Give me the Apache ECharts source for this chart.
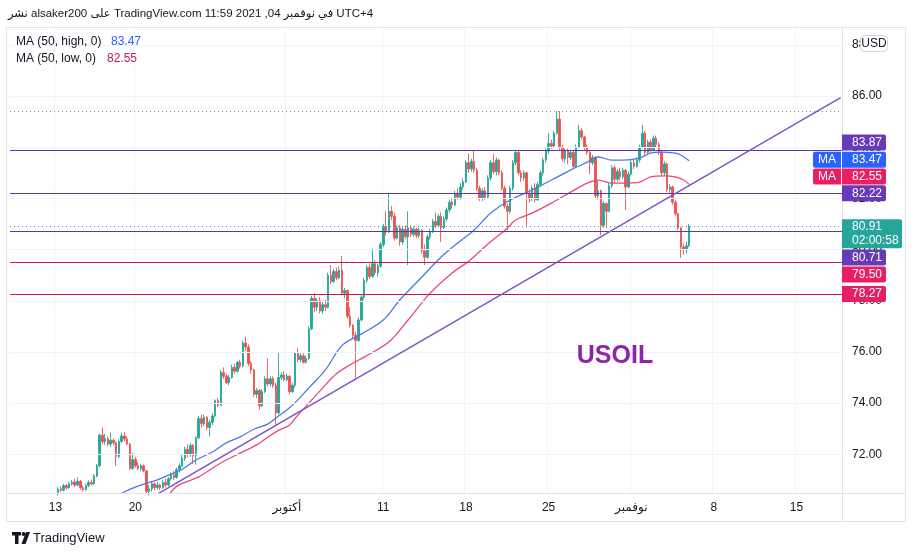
<!DOCTYPE html>
<html><head><meta charset="utf-8">
<script src="https://cdn.jsdelivr.net/npm/echarts@6/dist/echarts.min.js"></script>
<style>html,body{margin:0;padding:0;background:#fff}#c{width:916px;height:556px}</style>
</head><body><div id="c"></div>
<script>
// ---------- DATA ----------
const N = 302;                       // category slots (4h candles + future space)
const tickIdx  = [16, 45, 100, 135, 165, 195, 225, 255, 285];
const tickText = ['13', '20', 'أكتوبر', '11', '18', '25', 'نوفمبر', '8', '15'];
const priceTicks = [72, 74, 76, 78, 80, 82, 84, 86, 88];
const firstIdx = 17;
// [open, close, low, high]
const candles = [
[70.50,70.65,70.40,70.72],[70.65,70.60,70.52,70.75],[70.60,70.78,70.55,70.85],[70.78,70.70,70.62,70.84],
[70.70,70.85,70.66,70.92],[70.85,70.92,70.78,71.00],[70.92,70.80,70.72,71.05],[70.80,70.95,70.75,71.10],
[70.95,70.70,70.62,71.00],[70.70,70.62,70.55,70.78],[70.62,70.78,70.58,70.85],[70.78,70.90,70.72,70.98],
[70.90,70.85,70.78,71.02],[70.85,71.15,70.80,71.22],[71.15,71.55,71.10,71.62],[71.55,72.75,71.50,72.82],
[72.75,72.50,72.40,73.05],[72.50,72.62,72.38,72.80],[72.62,72.40,72.32,72.70],[72.40,72.55,72.30,72.85],
[72.55,72.45,72.35,72.62],[72.45,71.92,71.55,72.50],[71.92,72.50,71.85,72.58],[72.50,72.72,72.45,72.85],
[72.72,72.60,72.50,72.88],[72.60,72.40,72.35,72.70],[72.40,71.45,71.38,72.45],[71.45,71.80,71.40,72.05],
[71.80,71.55,71.48,71.90],[71.55,71.45,71.38,71.70],[71.45,71.55,71.35,71.62],[71.55,71.35,71.30,71.60],
[71.35,70.55,70.45,71.40],[70.55,70.65,70.40,70.80],[70.65,70.85,70.55,70.95],[70.85,70.70,70.60,70.90],
[70.70,70.80,70.62,70.92],[70.80,70.70,70.60,70.85],[70.70,70.90,70.65,71.00],[70.90,70.80,70.72,71.05],
[70.80,71.05,70.75,71.12],[71.05,71.20,70.98,71.30],[71.20,71.10,71.00,71.35],[71.10,71.40,71.05,71.48],
[71.40,71.55,71.30,71.65],[71.55,71.85,71.50,72.00],[71.85,72.20,71.75,72.30],[72.20,72.00,71.88,72.40],
[72.00,72.35,71.90,72.45],[72.35,71.95,71.62,72.40],[71.95,72.65,71.60,72.70],[72.65,73.40,72.60,73.50],
[73.40,73.20,73.05,73.55],[73.20,73.45,73.10,73.55],[73.45,73.05,72.95,73.50],[73.05,73.25,72.70,73.35],
[73.25,73.50,73.15,73.60],[73.50,74.10,73.45,74.15],[74.10,73.92,73.85,74.20],[73.92,75.20,73.90,75.30],
[75.20,75.05,74.95,75.40],[75.05,74.80,74.75,75.15],[74.80,75.00,74.70,75.10],[75.00,75.40,74.95,75.50],
[75.40,75.25,75.15,75.55],[75.25,75.60,75.20,75.65],[75.60,75.45,75.35,75.70],[75.45,76.35,75.40,76.45],
[76.35,76.20,76.05,76.60],[76.20,75.55,75.45,76.30],[75.55,75.30,75.15,75.65],[75.30,74.35,74.25,75.35],
[74.35,74.50,74.20,74.60],[74.50,73.90,73.75,74.55],[73.90,74.45,73.85,74.55],[74.45,74.95,74.40,75.05],
[74.95,74.75,74.65,75.75],[74.75,74.95,74.65,75.05],[74.95,74.70,74.60,75.05],[74.70,73.62,73.15,74.80],
[73.62,75.00,73.55,76.00],[75.00,75.10,74.90,75.20],[75.10,74.92,74.85,75.25],[74.92,75.05,74.85,75.15],
[75.05,74.45,74.35,75.10],[74.45,74.70,74.40,74.80],[74.70,75.95,74.60,76.00],[75.95,75.70,75.60,76.15],
[75.70,75.85,75.60,75.95],[75.85,75.60,75.55,75.95],[75.60,75.75,75.55,75.85],[75.75,76.90,75.70,77.00],
[76.90,78.10,76.85,78.20],[78.10,77.75,77.55,78.30],[77.75,78.00,77.60,78.10],[78.00,77.60,77.50,78.15],
[77.60,77.85,77.50,77.95],[77.85,77.75,77.60,78.05],[77.75,79.00,77.70,79.10],[79.00,78.75,78.65,79.40],
[78.75,79.15,78.70,79.25],[79.15,78.90,78.80,79.30],[78.90,79.20,78.85,79.35],[79.20,78.30,78.25,79.75],
[78.30,78.40,78.10,78.50],[78.40,77.40,77.30,78.45],[77.40,77.05,76.95,77.75],[77.05,76.65,76.55,77.10],
[76.65,76.45,75.00,76.80],[76.45,77.25,76.40,77.35],[77.25,78.15,77.20,78.25],[78.15,78.80,78.05,78.90],
[78.80,79.30,78.70,79.40],[79.30,78.95,78.85,79.45],[78.95,79.45,78.90,80.05],[79.45,79.10,79.00,79.60],
[79.10,79.35,78.95,79.45],[79.35,80.20,79.30,80.30],[80.20,80.90,80.10,81.00],[80.90,80.70,80.55,81.50],
[80.70,81.50,80.65,82.22],[81.50,81.30,81.15,81.70],[81.30,80.45,80.35,81.45],[80.45,80.85,80.40,80.95],
[80.85,80.30,80.15,80.95],[80.30,80.80,80.20,80.90],[80.80,80.50,80.40,80.95],[80.50,80.85,79.40,81.50],
[80.85,80.60,80.50,80.95],[80.60,80.80,80.50,80.90],[80.80,80.55,80.45,80.85],[80.55,80.75,80.45,80.85],
[80.75,79.95,79.85,80.80],[79.95,79.70,79.40,80.20],[79.70,80.50,79.65,80.60],[80.50,80.70,80.40,80.80],
[80.70,81.10,80.65,81.20],[81.10,80.95,80.85,81.45],[80.95,81.30,80.90,81.40],[81.30,80.85,80.30,81.45],
[80.85,81.20,80.80,81.30],[81.20,81.55,81.10,81.65],[81.55,81.85,81.45,81.95],[81.85,81.75,81.60,82.00],
[81.75,82.20,81.70,82.30],[82.20,82.05,81.95,82.40],[82.05,82.45,81.95,82.60],[82.45,82.65,82.35,82.80],
[82.65,83.40,82.60,83.50],[83.40,83.15,83.00,83.75],[83.15,83.45,83.05,83.55],[83.45,83.10,83.00,83.87],
[83.10,82.40,82.30,83.20],[82.40,82.00,81.90,82.50],[82.00,82.30,81.90,82.40],[82.30,82.05,81.95,82.45],
[82.05,82.80,82.00,82.90],[82.80,83.40,82.70,83.50],[83.40,83.05,82.95,83.75],[83.05,83.50,82.90,83.60],
[83.50,83.00,82.90,83.55],[83.00,82.40,82.30,83.10],[82.40,81.70,81.60,82.50],[81.70,81.50,80.76,81.80],
[81.50,82.40,81.40,82.50],[82.40,83.40,82.30,83.50],[83.40,83.80,83.30,83.90],[83.80,83.00,82.90,83.90],
[83.00,82.80,82.65,83.10],[82.80,83.00,82.70,83.10],[83.00,82.20,80.90,83.05],[82.20,82.00,81.85,82.35],
[82.00,82.40,81.90,82.50],[82.40,81.95,81.85,82.60],[81.95,82.55,81.90,82.65],[82.55,83.00,82.45,83.10],
[83.00,83.50,82.90,83.60],[83.50,83.85,83.40,83.95],[83.85,84.15,83.75,84.55],[84.15,84.05,83.95,84.30],
[84.05,84.55,84.00,84.65],[84.55,85.10,84.50,85.40],[85.10,84.00,83.90,85.41],[84.00,83.55,83.45,84.10],
[83.55,83.85,83.40,83.95],[83.85,83.60,83.35,83.95],[83.60,83.80,83.50,83.90],[83.80,83.25,83.15,83.85],
[83.25,84.00,83.20,84.10],[84.00,84.65,83.95,84.87],[84.65,84.40,84.30,84.75],[84.40,84.00,83.90,84.45],
[84.00,83.80,83.70,84.10],[83.80,83.40,82.95,83.90],[83.40,83.60,83.30,83.70],[83.60,82.10,82.00,83.65],
[82.10,82.30,81.95,82.70],[82.30,80.95,80.57,82.35],[80.95,81.80,80.85,81.90],[81.80,81.50,80.84,81.85],
[81.50,82.50,81.45,82.60],[82.50,83.20,82.40,83.30],[83.20,82.75,82.60,83.30],[82.75,83.05,82.65,83.15],
[83.05,82.85,82.70,83.20],[82.85,83.10,82.75,83.20],[83.10,82.45,81.55,83.15],[82.45,82.95,82.40,83.05],
[82.95,83.40,82.90,83.50],[83.40,83.25,83.15,83.55],[83.25,83.50,83.20,83.60],[83.50,84.00,83.40,84.10],
[84.00,84.55,83.95,84.87],[84.55,83.80,83.70,84.65],[83.80,84.20,83.70,84.30],[84.20,83.90,83.80,84.30],
[83.90,84.35,83.85,84.45],[84.35,84.10,84.00,84.45],[84.10,83.80,83.70,84.20],[83.80,83.00,82.90,83.90],
[83.00,83.35,82.90,83.45],[83.35,82.35,82.25,83.40],[82.35,82.45,82.20,82.55],[82.45,81.85,81.75,82.50],
[81.85,81.40,81.30,81.95],[81.40,80.85,80.75,81.45],[80.85,80.10,79.67,80.90],[80.10,80.00,79.80,80.25],
[80.00,80.15,79.85,80.30],[80.15,80.91,80.10,81.00]
];
// MA (50, high) read at sample points (category index / value)
const maHighIdx = [38,41,47,53,57,62,67,73,78,83,88,93,97,100,104,108,114,120,127,135,141,149,156,162,168,174,181,189,196,203,209,213,218,222,228,232,236,241,243,246];
const maHighVal = [70.25,70.53,70.80,71.00,71.19,71.42,71.78,72.09,72.45,72.68,72.98,73.18,73.50,73.73,74.13,74.60,75.30,76.25,76.70,77.25,78.03,78.93,79.71,80.26,80.77,81.43,81.94,82.33,82.72,83.11,83.42,83.62,83.50,83.50,83.58,83.77,83.81,83.77,83.70,83.47];
// MA (50, low)
const maLowIdx = [56,60,68,76,83,89,96,101,104,108,113,118,123,128,137,144,152,160,166,173,180,183,189,196,203,209,213,218,222,228,232,237,241,244,246];
const maLowVal = [70.22,70.75,71.12,71.66,72.05,72.37,72.88,73.15,73.54,74.00,74.60,75.15,75.50,75.80,76.39,77.25,78.30,79.09,79.55,80.22,80.84,81.16,81.43,81.82,82.25,82.60,82.72,82.60,82.60,82.64,82.84,82.88,82.84,82.72,82.55];
// drawn trend line (two anchor points)
const trendIdx = [50, 301];
const trendVal = [70.26, 85.94];
// horizontal levels
const levelsPurple = [83.87, 82.22, 80.71];
const levelsRed = [79.50, 78.27];
const highLevel = 85.41;
const lastPrice = 80.91;
const countdown = '02:00:58';
const maHighLast = 83.47, maLowLast = 82.55;

// ---------- CHART ----------
const FONT = '"Liberation Sans", "DejaVu Sans", sans-serif';
const labelMap = {};
tickIdx.forEach((k, j) => labelMap[k] = tickText[j]);
const cats = Array.from({length: N}, (_, i) => String(i));
const candleData = Array.from({length: N}, () => '-');
candles.forEach((c, j) => candleData[firstIdx + j] = c);
const pairs = (a, b) => a.map((k, j) => [k, b[j]]);

const PURPLE = '#673ab7', PURPLE_LINE = '#5e35b1';
const RED = '#e91e63', RED_LINE = '#c2185b';
const BLUE = '#2962ff', TEAL = '#26a69a';

const chart = echarts.init(document.getElementById('c'), null, {renderer: 'canvas'});
const showTick = (i) => labelMap[i] !== undefined;
chart.setOption({
  animation: false,
  backgroundColor: '#ffffff',
  grid: {left: 10, right: 74, top: 27, bottom: 63, containLabel: false},
  xAxis: {
    type: 'category', data: cats, boundaryGap: true,
    axisLine: {show: false},
    axisTick: {show: false},
    axisLabel: {interval: showTick, formatter: (v, i) => labelMap[i] || '', color: '#131722', fontSize: 12, margin: 9, fontFamily: FONT},
    splitLine: {show: true, interval: showTick, lineStyle: {color: '#f0f3fa', width: 1}}
  },
  yAxis: {
    type: 'value', position: 'right', min: 70.49, max: 88.70, scale: true,
    axisLine: {show: false}, axisTick: {show: false}, splitLine: {show: false},
    axisLabel: {customValues: priceTicks, formatter: v => v.toFixed(2), color: '#131722', fontSize: 12, margin: 10, fontFamily: FONT}
  },
  series: [
    { // horizontal grid
      type: 'line', data: [], z: 0, silent: true,
      markLine: {silent: true, symbol: ['none', 'none'], label: {show: false}, animation: false,
        lineStyle: {color: '#f0f3fa', type: 'solid', width: 1},
        data: priceTicks.map(v => ({yAxis: v}))}
    },
    { // levels
      type: 'line', data: [], z: 2, silent: true,
      markLine: {silent: true, symbol: ['none', 'none'], label: {show: false}, animation: false,
        data: [
          ...levelsPurple.map(v => ({yAxis: v, lineStyle: {color: PURPLE_LINE, width: 1.2, type: 'solid'}})),
          ...levelsRed.map(v => ({yAxis: v, lineStyle: {color: RED_LINE, width: 1.2, type: 'solid'}})),
          {yAxis: highLevel, lineStyle: {color: '#8a8d96', width: 1, type: [1, 3]}},
          {yAxis: lastPrice, lineStyle: {color: TEAL, width: 1, type: [1, 3]}}
        ]}
    },
    {
      type: 'candlestick', data: candleData, z: 3, barWidth: 2,
      itemStyle: {color: TEAL, color0: '#ef5350', borderColor: TEAL, borderColor0: '#ef5350', borderWidth: 0.9}
    },
    {
      type: 'line', data: pairs(maHighIdx, maHighVal), z: 4, showSymbol: false, smooth: 0.35, silent: true,
      lineStyle: {color: '#4b79e4', width: 1.3}
    },
    {
      type: 'line', data: pairs(maLowIdx, maLowVal), z: 4, showSymbol: false, smooth: 0.35, silent: true,
      lineStyle: {color: '#e8487c', width: 1.3}
    },
    {
      type: 'line', data: pairs(trendIdx, trendVal), z: 5, showSymbol: false, silent: true,
      lineStyle: {color: '#7e57c2', width: 1.5}
    }
  ]
});

// ---------- OVERLAY TEXT / PRICE TAGS ----------
const yPix = v => chart.convertToPixel({yAxisIndex: 0}, v);
const AX = 842;
const g = [];
const txt = (x, y, text, fill, size, extra) => Object.assign({type: 'text', x, y, z: 200, silent: true,
  style: Object.assign({text, fill, fontSize: size, fontFamily: FONT, align: 'left', verticalAlign: 'middle'}, extra || {})});
// frame lines
g.push({type: 'rect', z: 150, silent: true, shape: {x: 6.5, y: 27.5, width: 899, height: 494}, style: {fill: null, stroke: '#e0e3eb', lineWidth: 1}});
g.push({type: 'line', z: 150, silent: true, shape: {x1: 6, y1: 493.5, x2: 906, y2: 493.5}, style: {stroke: '#e0e3eb', lineWidth: 1}});
g.push({type: 'line', z: 150, silent: true, shape: {x1: AX + 0.5, y1: 27, x2: AX + 0.5, y2: 521}, style: {stroke: '#e0e3eb', lineWidth: 1}});
// header
g.push(txt(8, 14, 'نشر alsaker200 على TradingView.com في نوفمبر 04, 2021 11:59 UTC+4', '#131722', 11.5));
// legend
g.push(txt(16, 42, 'MA (50, high, 0)', '#131722', 12));
g.push(txt(111, 42, maHighLast.toFixed(2), '#2962ff', 12));
g.push(txt(16, 59, 'MA (50, low, 0)', '#131722', 12));
g.push(txt(107, 59, maLowLast.toFixed(2), '#c2185b', 12));
// USOIL annotation
g.push(txt(615, 356, 'USOIL', '#8e24aa', 25, {fontWeight: 'bold', align: 'center'}));
// price tags
const tag = (v, dy, color, ma) => {
  const cy = yPix(v) + dy;
  g.push({type: 'rect', z: 190, silent: true, shape: {x: AX, y: cy - 8, width: 44, height: 16, r: [0, 2, 2, 0]}, style: {fill: color}});
  g.push(txt(852, cy, v.toFixed(2), '#ffffff', 12));
  if (ma) {
    g.push({type: 'rect', z: 190, silent: true, shape: {x: AX - 29, y: cy - 8, width: 28, height: 16, r: [2, 0, 0, 2]}, style: {fill: color}});
    g.push(txt(AX - 15, cy, 'MA', '#ffffff', 12, {align: 'center'}));
  }
};
tag(levelsPurple[0], -8, PURPLE);
tag(maHighLast, -1, BLUE, true);
tag(maLowLast, -8, RED, true);
tag(levelsPurple[1], 0.5, PURPLE);
tag(levelsPurple[2], 26, PURPLE);
tag(levelsRed[0], 12, RED);
tag(levelsRed[1], 0, RED);
// last price tag
const ly = yPix(lastPrice);
g.push({type: 'rect', z: 190, silent: true, shape: {x: AX, y: ly - 7, width: 60, height: 29, r: [0, 2, 2, 0]}, style: {fill: TEAL}});
g.push(txt(852, ly, lastPrice.toFixed(2), '#ffffff', 12));
g.push(txt(852, ly + 14, countdown, '#ffffff', 12));
// currency box
g.push({type: 'rect', z: 190, silent: true, shape: {x: 860.5, y: 35.5, width: 27, height: 16, r: 4}, style: {fill: '#ffffff', stroke: '#d1d4dc', lineWidth: 1}});
g.push(txt(874, 44, 'USD', '#131722', 12, {align: 'center'}));
// footer logo
g.push({type: 'rect', z: 190, silent: true, shape: {x: 12, y: 532, width: 9, height: 3.5}, style: {fill: '#131722'}});
g.push({type: 'rect', z: 190, silent: true, shape: {x: 15, y: 532, width: 3.5, height: 12}, style: {fill: '#131722'}});
g.push({type: 'circle', z: 190, silent: true, shape: {cx: 23.5, cy: 534, r: 1.9}, style: {fill: '#131722'}});
g.push({type: 'polygon', z: 190, silent: true, shape: {points: [[26, 532], [30, 532], [25.5, 544], [21.5, 544]]}, style: {fill: '#131722'}});
g.push(txt(33, 538.5, 'TradingView', '#131722', 13));
chart.setOption({graphic: g});
</script>
</body></html>
